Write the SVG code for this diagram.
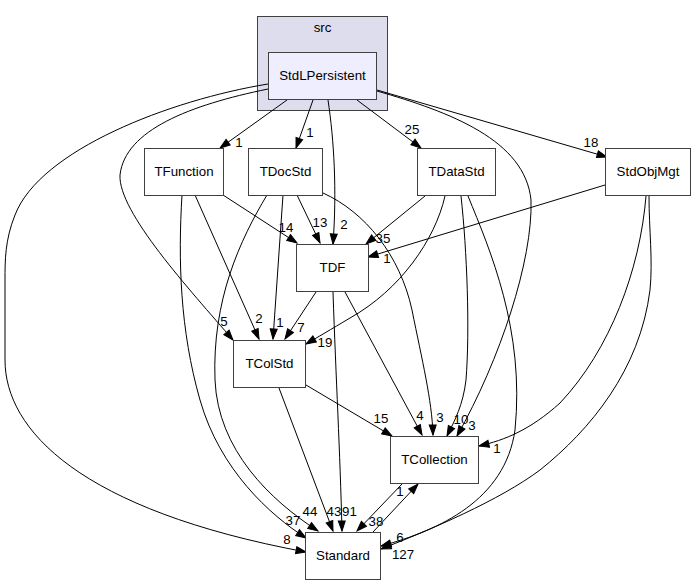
<svg xmlns="http://www.w3.org/2000/svg" width="695" height="585" viewBox="0 0 695 585">
<style>
text{font-family:"Liberation Sans",Arial,sans-serif;font-size:13.3px;fill:#000}
.n text{text-anchor:middle}
.n rect{fill:#fff;stroke:#404040;stroke-width:1}
.e path{fill:none;stroke:#000;stroke-width:1;marker-end:url(#ah)}
.l text{text-anchor:middle}
</style>
<defs>
<marker id="ah" markerUnits="userSpaceOnUse" markerWidth="12" markerHeight="10" refX="10" refY="4" orient="auto" overflow="visible">
<path d="M0,0.5 L10,4 L0,7.5 Z" fill="#000" stroke="#000" stroke-width="1"/>
</marker>
</defs>
<rect width="695" height="585" fill="#fff"/>
<g id="cluster_src">
<rect x="257.5" y="16.5" width="130" height="94" fill="#ddddee" stroke="#404040"/>
<text x="322.5" y="32" text-anchor="middle">src</text>
</g>
<g id="connectors" class="e">
<path d="M287,100 L220,148"/>
<path d="M313,100 L296,148"/>
<path d="M328,100 C334,140 337,190 333,244"/>
<path d="M357,100 L421,148"/>
<path d="M377,90 L607,157"/>
<path d="M377,91 C450,112 525,140 531,200 C533,260 500,360 457,436"/>
<path d="M268,89 C190,105 125,130 120,175 C118,212 190,290 233,340"/>
<path d="M268,84 C170,100 40,150 15,215 C5,240 5,260 5,280 L5,360 C5,430 80,510 306,552"/>
<path d="M223,195 L297,243"/>
<path d="M195,195 L259,339"/>
<path d="M182,195 C178,260 180,330 200,400 C220,470 270,515 306,538"/>
<path d="M297,195 L320,243"/>
<path d="M283,195 L273,339"/>
<path d="M267,195 C240,240 212,300 215,380 C218,450 270,500 318,531"/>
<path d="M323,193 C365,212 400,255 412,310 C422,360 432,400 433,435"/>
<path d="M425,196 L366,244"/>
<path d="M445,196 C435,240 400,290 350,318 C330,330 318,337 306,344"/>
<path d="M461,196 C467,250 470,330 466,380 C463,405 455,420 447,436"/>
<path d="M468,196 C490,250 525,330 515,430 C505,500 440,530 381,546"/>
<path d="M605,185 L368,257"/>
<path d="M646,196 C640,270 610,350 560,403 C530,430 505,440 479,446"/>
<path d="M649,196 C649,230 653,260 650,290 C640,370 590,430 540,470 C500,500 430,530 381,549"/>
<path d="M316,292 L285,339"/>
<path d="M333,292 C336,380 340,450 342,531"/>
<path d="M345,292 L422,435"/>
<path d="M306,385 L392,436"/>
<path d="M279,388 L333,531"/>
<path d="M402,484 L357,531"/>
<path d="M373,532 L418,484"/>
</g>
<g id="edge_labels" class="l">
<text x="239" y="147">1</text>
<text x="310" y="137">1</text>
<text x="344" y="229">2</text>
<text x="412" y="134">25</text>
<text x="591" y="147">18</text>
<text x="472" y="430">3</text>
<text x="224" y="326">5</text>
<text x="287" y="544">8</text>
<text x="286" y="232">14</text>
<text x="259" y="323">2</text>
<text x="293" y="525">37</text>
<text x="320" y="227">13</text>
<text x="280" y="327">1</text>
<text x="310" y="516">44</text>
<text x="440" y="422">3</text>
<text x="383" y="243">35</text>
<text x="325" y="347">19</text>
<text x="461" y="424">10</text>
<text x="403" y="559">127</text>
<text x="387" y="263">1</text>
<text x="497" y="453">1</text>
<text x="400" y="542">6</text>
<text x="301" y="332">7</text>
<text x="349.5" y="516">91</text>
<text x="420" y="420">4</text>
<text x="381" y="423">15</text>
<text x="334" y="516">43</text>
<text x="376" y="526">38</text>
<text x="400" y="496">1</text>
</g>
<g id="StdLPersistent" class="n">
<rect x="268.5" y="52.5" width="108" height="47" style="fill:#eeeeff"/>
<text x="322.5" y="80">StdLPersistent</text>
</g>
<g id="TFunction" class="n">
<rect x="144.5" y="148.5" width="79" height="47"/>
<text x="184" y="176">TFunction</text>
</g>
<g id="TDocStd" class="n">
<rect x="248.5" y="148.5" width="74" height="47"/>
<text x="285.5" y="176">TDocStd</text>
</g>
<g id="TDataStd" class="n">
<rect x="417.5" y="148.5" width="78" height="47"/>
<text x="456.5" y="176">TDataStd</text>
</g>
<g id="StdObjMgt" class="n">
<rect x="605.5" y="148.5" width="85" height="47"/>
<text x="648" y="176">StdObjMgt</text>
</g>
<g id="TDF" class="n">
<rect x="296.5" y="244.5" width="72" height="47"/>
<text x="332.5" y="272">TDF</text>
</g>
<g id="TColStd" class="n">
<rect x="233.5" y="340.5" width="72" height="47"/>
<text x="269.5" y="368">TColStd</text>
</g>
<g id="TCollection" class="n">
<rect x="390.5" y="436.5" width="88" height="47"/>
<text x="434.5" y="464">TCollection</text>
</g>
<g id="Standard" class="n">
<rect x="305.5" y="532.5" width="75" height="47"/>
<text x="343" y="560">Standard</text>
</g>
</svg>
